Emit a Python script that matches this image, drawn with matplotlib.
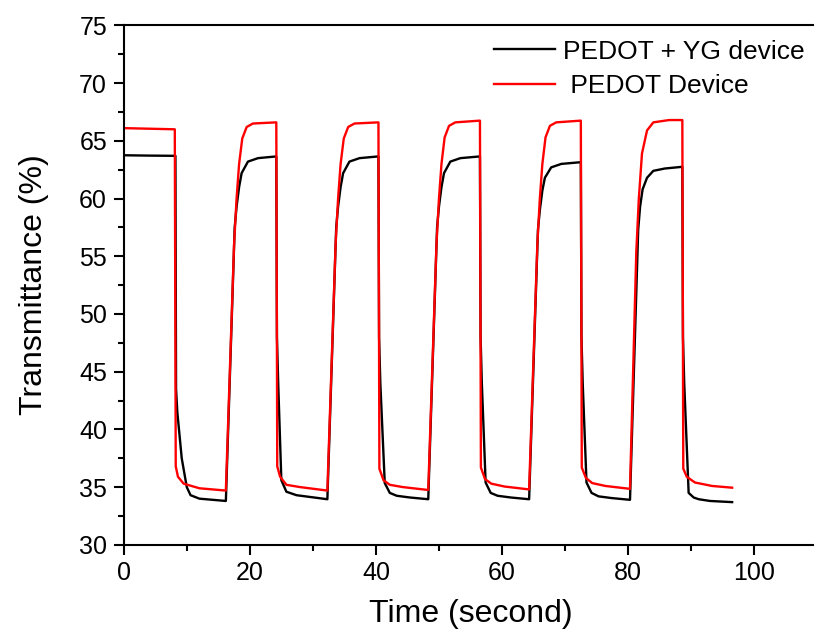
import numpy as np
import matplotlib.pyplot as plt
from matplotlib.ticker import MultipleLocator

plt.rcParams['font.family'] = ['Liberation Sans', 'DejaVu Sans']

# PEDOT + YG device (black)
t_yg = [0, 4, 8.2, 8.3, 8.5, 9.2, 10.0, 10.6, 12.0, 16.2,
        17.6, 17.9, 18.3, 18.7, 19.7, 21.3, 24.2,
        24.3, 24.5, 25.0, 25.8, 27.4, 32.3,
        33.7, 34.0, 34.4, 34.8, 35.8, 37.4, 40.4,
        40.5, 40.7, 41.4, 42.2, 43.3, 45.4, 48.3,
        49.7, 50.0, 50.4, 50.8, 51.8, 53.4, 56.5,
        56.6, 56.8, 57.4, 58.2, 59.3, 61.4, 64.3,
        65.7, 66.0, 66.4, 66.8, 67.8, 69.4, 72.5,
        72.6, 72.8, 73.4, 74.2, 75.3, 77.4, 80.3,
        81.6, 81.9, 82.3, 83.0, 84.0, 85.8, 88.6,
        88.7, 88.9, 89.6, 90.4, 91.2, 93.0, 96.5]
T_yg = [63.75, 63.72, 63.7, 43.5, 41.5, 37.5, 35.0, 34.3, 34.0, 33.8,
        57.5, 59.3, 61.0, 62.2, 63.2, 63.5, 63.65,
        48.0, 44.0, 35.6, 34.6, 34.3, 33.95,
        57.5, 59.3, 61.0, 62.2, 63.2, 63.5, 63.65,
        48.0, 44.0, 35.35, 34.5, 34.25, 34.1, 33.95,
        57.5, 59.3, 61.0, 62.2, 63.2, 63.5, 63.65,
        48.0, 44.0, 35.4, 34.5, 34.25, 34.1, 33.95,
        57.3, 59.0, 60.7, 61.8, 62.7, 63.0, 63.15,
        48.0, 44.0, 35.4, 34.5, 34.2, 34.05, 33.9,
        57.3, 59.3, 60.8, 61.8, 62.4, 62.6, 62.75,
        48.0, 44.0, 34.5, 34.1, 33.95, 33.8, 33.7]

# PEDOT device (red)
t_pd = [0, 4, 8.1, 8.25, 8.6, 9.5, 12.0, 16.2,
        17.5, 17.9, 18.3, 18.8, 19.5, 20.5, 24.2,
        24.35, 24.8, 25.8, 28.0, 32.3,
        33.6, 34.0, 34.4, 34.9, 35.6, 36.6, 40.4,
        40.55, 41.2, 42.2, 44.3, 48.3,
        49.6, 50.0, 50.4, 50.9, 51.6, 52.6, 56.5,
        56.65, 57.3, 58.3, 60.4, 64.3,
        65.6, 66.0, 66.4, 66.9, 67.6, 68.6, 72.5,
        72.65, 73.3, 74.3, 76.4, 80.3,
        81.3, 81.7, 82.2, 83.0, 84.0, 86.5, 88.6,
        88.75, 89.3, 90.6, 93.3, 96.5]
T_pd = [66.1, 66.05, 66.0, 36.8, 35.9, 35.3, 34.9, 34.7,
        56.0, 60.0, 63.0, 65.2, 66.2, 66.5, 66.6,
        36.8, 35.9, 35.2, 35.0, 34.7,
        56.0, 60.0, 63.0, 65.2, 66.2, 66.5, 66.6,
        36.6, 35.6, 35.2, 35.0, 34.75,
        56.0, 60.0, 63.0, 65.3, 66.3, 66.6, 66.75,
        36.7, 35.7, 35.3, 35.05, 34.8,
        56.0, 60.0, 63.0, 65.3, 66.3, 66.6, 66.75,
        36.7, 35.8, 35.35, 35.1, 34.85,
        55.4, 60.0, 63.9, 65.9, 66.6, 66.8, 66.8,
        36.6, 35.9, 35.4, 35.1, 34.95]

fig = plt.figure(figsize=(8.14, 6.35), dpi=100)
ax = fig.add_axes([0.152, 0.142, 0.852, 0.818])

ax.plot(t_yg, T_yg, color='black', lw=1.7, label='PEDOT + YG device')
ax.plot(t_pd, T_pd, color='red', lw=1.7, label=' PEDOT Device')

ax.set_xlim(0, 110)
ax.set_ylim(30, 75)
ax.xaxis.set_major_locator(MultipleLocator(20))
ax.xaxis.set_minor_locator(MultipleLocator(10))
ax.yaxis.set_major_locator(MultipleLocator(5))
ax.yaxis.set_minor_locator(MultipleLocator(2.5))
ax.tick_params(which='both', direction='out', width=1.5, labelsize=18, pad=5)
ax.tick_params(which='major', length=7)
ax.tick_params(which='minor', length=4)
for s in ax.spines.values():
    s.set_linewidth(1.5)

ax.set_xlabel('Time (second)', fontsize=23, labelpad=10)
ax.set_ylabel('Transmittance (%)', fontsize=23, labelpad=22)

ax.legend(loc='upper left', bbox_to_anchor=(0.515, 0.998), frameon=False,
          fontsize=19, handlelength=2.3, handletextpad=0.3,
          labelspacing=0.4, borderpad=0)

fig.savefig('out.png', dpi=100)
